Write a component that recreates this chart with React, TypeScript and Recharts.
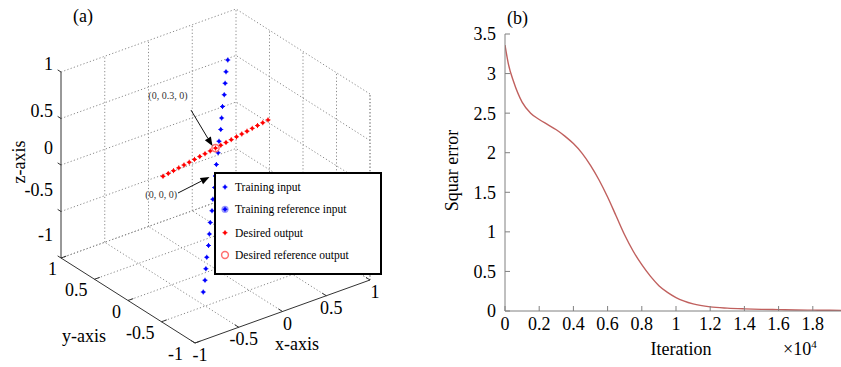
import React from 'react';
import {
  ScatterChart,
  Scatter,
  XAxis,
  YAxis,
  ReferenceLine,
  Legend,
  LineChart,
  Line,
} from 'recharts';

const SERIF = '"Liberation Serif", "Times New Roman", Times, serif';

// ---------- (a) 3-D view data ----------
// training input (blue)
const trainX = [-0.14, -0.12, -0.11, -0.1, -0.08, -0.07, -0.06, -0.04, -0.03, -0.01, 0, 0.01, 0.03, 0.04, 0.06, 0.07, 0.08, 0.1, 0.11, 0.12, 0.14];
const trainZ = [-1.2, -1.08, -0.96, -0.84, -0.72, -0.6, -0.48, -0.36, -0.24, -0.12, 0, 0.12, 0.24, 0.36, 0.48, 0.6, 0.72, 0.84, 0.96, 1.08, 1.2];
// desired output (red)
const desiredX = [-0.6, -0.54, -0.48, -0.42, -0.36, -0.3, -0.24, -0.18, -0.12, -0.06, 0, 0.06, 0.12, 0.18, 0.24, 0.3, 0.36, 0.42, 0.48, 0.54, 0.6];
const desiredZ = [0.2, 0.21, 0.22, 0.23, 0.24, 0.25, 0.26, 0.27, 0.28, 0.29, 0.3, 0.31, 0.32, 0.33, 0.34, 0.35, 0.36, 0.37, 0.38, 0.39, 0.4];
const trainRef = [0, 0, 0];
const desiredRef = [0, 0, 0.3];

const axisTicks = [-1, -0.5, 0, 0.5, 1];
const gridSteps = [-0.5, 0, 0.5, 1];
const annotTexts = ['(0, 0.3, 0)', '(0, 0, 0)'];
const annotTargets = [desiredRef, trainRef];
const legendNames = ['Training input', 'Training reference input', 'Desired output', 'Desired reference output'];

// ---------- (b) squared error ----------
const iterations = [0, 200, 500, 1000, 1500, 2000, 2500, 3000, 3500, 4000, 4500, 5000, 5500, 6000, 6500, 7000, 7500, 8000, 8500, 9000, 9500, 10000, 11000, 12000, 13000, 14000, 15000, 16000, 17000, 18000, 19000, 20000];
const squarError = [3.36, 3.12, 2.9, 2.64, 2.5, 2.42, 2.355, 2.29, 2.21, 2.115, 1.995, 1.84, 1.655, 1.44, 1.2, 0.96, 0.755, 0.585, 0.44, 0.32, 0.235, 0.17, 0.09, 0.052, 0.036, 0.027, 0.021, 0.017, 0.013, 0.011, 0.009, 0.008];
const iterTicks = [0, 2000, 4000, 6000, 8000, 10000, 12000, 14000, 16000, 18000];
const errTicks = [0, 0.5, 1, 1.5, 2, 2.5, 3, 3.5];

// oblique projection of the unit box (per unit of x, y, z)
const X_DIR = [87.5, 31.5];
const Y_DIR = [-67, 42.5];
const Z_UP = 93;
const proj = (x: number, y: number, z: number) => ({
  u: X_DIR[0] * (x + 1) + Y_DIR[0] * (y + 1),
  v: X_DIR[1] * (x + 1) + Y_DIR[1] * (y + 1) + Z_UP * (z + 1),
});

const trainPts = trainZ.map((z, i) => proj(trainX[i], 0, z));
const desiredPts = desiredZ.map((z, i) => proj(desiredX[i], 0, z));
const trainRefPts = [proj(trainRef[0], trainRef[1], trainRef[2])];
const desiredRefPts = [proj(desiredRef[0], desiredRef[1], desiredRef[2])];

type Seg = [number[], number[]];
const gridSegs: Seg[] = [];
gridSteps.forEach((s) => {
  gridSegs.push([[s, 1, -1], [s, 1, 1]]); // back-left wall verticals
  gridSegs.push([[1, -s, -1], [1, -s, 1]]); // back-right wall verticals
  gridSegs.push([[s, -1, -1], [s, 1, -1]]); // floor, constant x
  gridSegs.push([[-1, s, -1], [1, s, -1]]); // floor, constant y
});
gridSegs.push([[1, -1, -1], [1, -1, 1]]);
axisTicks.forEach((z) => {
  gridSegs.push([[-1, 1, z], [1, 1, z]]);
  gridSegs.push([[1, -1, z], [1, 1, z]]);
});
const axisSegs: Seg[] = [
  [[-1, 1, -1], [-1, 1, 1]],
  [[-1, -1, -1], [-1, 1, -1]],
  [[-1, -1, -1], [1, -1, -1]],
];
axisTicks.forEach((t) => {
  axisSegs.push([[-1, 1, t], [-1, 1.05, t]]);
  axisSegs.push([[-1, t, -1], [-0.94, t, -1]]);
  axisSegs.push([[t, -1, -1], [t, -0.94, -1]]);
});

const LABEL_STYLE: Record<string, any> = {
  z: { dx: -8, dy: 2, anchor: 'end' },
  y: { dx: -7, dy: 17, anchor: 'end' },
  x: { dx: 5, dy: 18, anchor: 'middle' },
  xt: { dx: -3, dy: 45, anchor: 'middle' },
  yt: { dx: -44, dy: 41, anchor: 'middle' },
  zt: { dx: -36, dy: -3, anchor: 'middle', rotate: true },
};
// per-tick nudges of the 3-D tick labels, as placed in the original figure
const Z_LABEL_SHIFT = [-19, -18, -13, -4, -4];
const Y_LABEL_SHIFT = [-5, 0, 0, 0, 3];
const fmt = (n: number) => String(n);
const labelPts = [
  ...axisTicks.map((t, i) => ({ ...proj(-1, 1, t), text: fmt(t), kind: 'z', ny: Z_LABEL_SHIFT[i] })),
  ...axisTicks.map((t, i) => ({ ...proj(-1, t, -1), text: fmt(t), kind: 'y', nx: Y_LABEL_SHIFT[i] })),
  ...axisTicks.map((t) => ({ ...proj(t, -1, -1), text: fmt(t), kind: 'x' })),
  { ...proj(0.2, -1, -1), text: 'x-axis', kind: 'xt' },
  { ...proj(-1, 0, -1), text: 'y-axis', kind: 'yt' },
  { ...proj(-1, 1, 0), text: 'z-axis', kind: 'zt' },
];

// arrow tip / tail / text offsets (px) from each annotated point
const ANNOT_LAYOUT = [
  { tip: [-3, -2], tail: [-24.5, -38], text: [-28, -49] },
  { tip: [-6, 1], tail: [-37.5, 17], text: [-38.5, 22] },
];
const annotPts = annotTexts.map((t, i) => ({ ...proj(annotTargets[i][0], annotTargets[i][1], annotTargets[i][2]), text: t, id: i }));

const toXY = (p: number[]) => {
  const q = proj(p[0], p[1], p[2]);
  return { x: q.u, y: q.v };
};

const starDot = (color: string) => (p: any) => (
  <g>
    <circle cx={p.cx} cy={p.cy} r={1.7} fill={color} />
    <path d={`M${p.cx - 2.5},${p.cy}h5M${p.cx},${p.cy - 2.5}v5`} stroke={color} strokeWidth={0.9} />
  </g>
);

const renderLabel = (p: any) => {
  const d = p.payload;
  const s = LABEL_STYLE[d.kind];
  const x = p.cx + s.dx + (d.nx || 0);
  const y = p.cy + s.dy + (d.ny || 0);
  return (
    <text
      x={x}
      y={y}
      textAnchor={s.anchor}
      fontSize={18}
      fontFamily={SERIF}
      fill="#000"
      transform={s.rotate ? `rotate(-90 ${x} ${y})` : undefined}
    >
      {d.text}
    </text>
  );
};

const renderAnnot = (p: any) => {
  const L = ANNOT_LAYOUT[p.payload.id];
  const tx = p.cx + L.tip[0];
  const ty = p.cy + L.tip[1];
  const sx = p.cx + L.tail[0];
  const sy = p.cy + L.tail[1];
  const len = Math.hypot(tx - sx, ty - sy);
  const ux = (tx - sx) / len;
  const uy = (ty - sy) / len;
  const bx = tx - ux * 9;
  const by = ty - uy * 9;
  return (
    <g>
      <line x1={sx} y1={sy} x2={bx} y2={by} stroke="#111" strokeWidth={1} />
      <polygon points={`${tx},${ty} ${bx - uy * 3.5},${by + ux * 3.5} ${bx + uy * 3.5},${by - ux * 3.5}`} fill="#000" />
      <text x={p.cx + L.text[0]} y={p.cy + L.text[1]} textAnchor="end" fontSize={10} fontFamily={SERIF} fill="#333">
        {p.payload.text}
      </text>
    </g>
  );
};

function LegendBox() {
  const rows = [13, 35.3, 58.7, 81];
  return (
    <div style={{ width: 168, height: 103, boxSizing: 'border-box', border: '2px solid #000', background: '#fff' }}>
      <svg width={164} height={99}>
        {starDot('#0000ff')({ cx: 9, cy: rows[0] })}
        <circle cx={9} cy={rows[1]} r={3.6} fill="#9a9aff" />
        {starDot('#0000ff')({ cx: 9, cy: rows[1] })}
        {starDot('#ff0000')({ cx: 9, cy: rows[2] })}
        <circle cx={9} cy={rows[3]} r={3.4} fill="none" stroke="#ff7070" strokeWidth={1.5} />
        {legendNames.map((n, i) => (
          <text key={n} x={19} y={rows[i] + 4} fontSize={11.5} fontFamily={SERIF} fill="#000">
            {n}
          </text>
        ))}
      </svg>
    </div>
  );
}

function Panel3D() {
  return (
    <ScatterChart width={420} height={367} margin={{ top: 0, right: 0, bottom: 0, left: 0 }}>
      <XAxis type="number" dataKey="u" domain={[-195, 225]} hide allowDataOverflow />
      <YAxis type="number" dataKey="v" domain={[-24, 343]} hide allowDataOverflow />
      {gridSegs.map((s, i) => (
        <ReferenceLine key={`g${i}`} segment={[toXY(s[0]), toXY(s[1])]} stroke="#8a8a8a" strokeWidth={1} strokeDasharray="1.2 2.2" ifOverflow="visible" />
      ))}
      {axisSegs.map((s, i) => (
        <ReferenceLine key={`a${i}`} segment={[toXY(s[0]), toXY(s[1])]} stroke="#333" strokeWidth={1} ifOverflow="visible" />
      ))}
      <Scatter data={trainRefPts} shape={starDot('#0000ff')} isAnimationActive={false} />
      <Scatter data={trainPts} shape={starDot('#0000ff')} isAnimationActive={false} />
      <Scatter data={desiredPts} shape={starDot('#ff0000')} isAnimationActive={false} />
      <Scatter
        data={desiredRefPts}
        shape={(p: any) => <circle cx={p.cx} cy={p.cy} r={3.6} fill="none" stroke="#ff7070" strokeWidth={1.5} />}
        isAnimationActive={false}
      />
      <Scatter data={annotPts} shape={renderAnnot} isAnimationActive={false} />
      <Scatter data={labelPts} shape={renderLabel} isAnimationActive={false} />
      <Legend
        content={() => <LegendBox />}
        layout="vertical"
        align="center"
        verticalAlign="middle"
        wrapperStyle={{ left: 214, top: 172, width: 168, height: 103 }}
      />
    </ScatterChart>
  );
}

const errorData = iterations.map((it, i) => ({ iter: it, err: squarError[i] }));

function ErrorPanel() {
  const tickStyle = { fontSize: 18, fill: '#000', fontFamily: SERIF };
  return (
    <LineChart width={450} height={367} data={errorData} margin={{ top: 34, right: 23, bottom: 0, left: 0 }}>
      <XAxis
        dataKey="iter"
        type="number"
        domain={[0, 20000]}
        ticks={iterTicks}
        interval={0}
        tickFormatter={(v: number) => String(v / 10000)}
        height={56}
        tickSize={-5}
        tickMargin={11}
        stroke="#808080"
        tick={tickStyle}
        allowDataOverflow
        label={(props: any) => {
          const vb = props.viewBox || { x: 85, y: 311 };
          return (
            <g fontFamily={SERIF} fontSize={18} fill="#000">
              <text x={vb.x + 176} y={vb.y + 44} textAnchor="middle">Iteration</text>
              <text x={vb.x + 278} y={vb.y + 44}>
                ×10
                <tspan dy={-7} fontSize={11}>4</tspan>
              </text>
            </g>
          );
        }}
      />
      <XAxis xAxisId="top" orientation="top" dataKey="iter" type="number" domain={[0, 20000]} ticks={iterTicks} interval={0} tick={false} height={0} tickSize={-5} stroke="#a0a0a0" />
      <YAxis
        domain={[0, 3.5]}
        ticks={errTicks}
        interval={0}
        width={85}
        tickSize={-5}
        tickMargin={14}
        stroke="#808080"
        tick={tickStyle}
        label={(props: any) => {
          const vb = props.viewBox || { x: 0, y: 34, height: 277 };
          const cx = vb.x + 38;
          const cy = vb.y + vb.height / 2 - 2;
          return (
            <text x={cx} y={cy} transform={`rotate(-90 ${cx} ${cy})`} textAnchor="middle" fontSize={18} fontFamily={SERIF} fill="#000">
              Squar error
            </text>
          );
        }}
      />
      <YAxis yAxisId="right" orientation="right" domain={[0, 3.5]} ticks={errTicks} interval={0} tick={false} width={0} tickSize={-5} stroke="#a0a0a0" />
      <Line dataKey="err" type="monotone" stroke="#c0605e" strokeWidth={1.4} dot={false} isAnimationActive={false} />
    </LineChart>
  );
}

export default function App() {
  return (
    <div style={{ position: 'fixed', left: 0, top: 0, width: 841, height: 367, overflow: 'hidden', background: '#fff' }}>
      <div style={{ position: 'absolute', left: 0, top: 0 }}>
        <Panel3D />
      </div>
      <div style={{ position: 'absolute', left: 420, top: 0 }}>
        <ErrorPanel />
      </div>
      <svg width={841} height={30} style={{ position: 'absolute', left: 0, top: 0, pointerEvents: 'none' }}>
        <text x={73} y={22} fontSize={18} fontFamily={SERIF} fill="#000">(a)</text>
        <text x={507} y={24} fontSize={18} fontFamily={SERIF} fill="#000">(b)</text>
      </svg>
    </div>
  );
}
